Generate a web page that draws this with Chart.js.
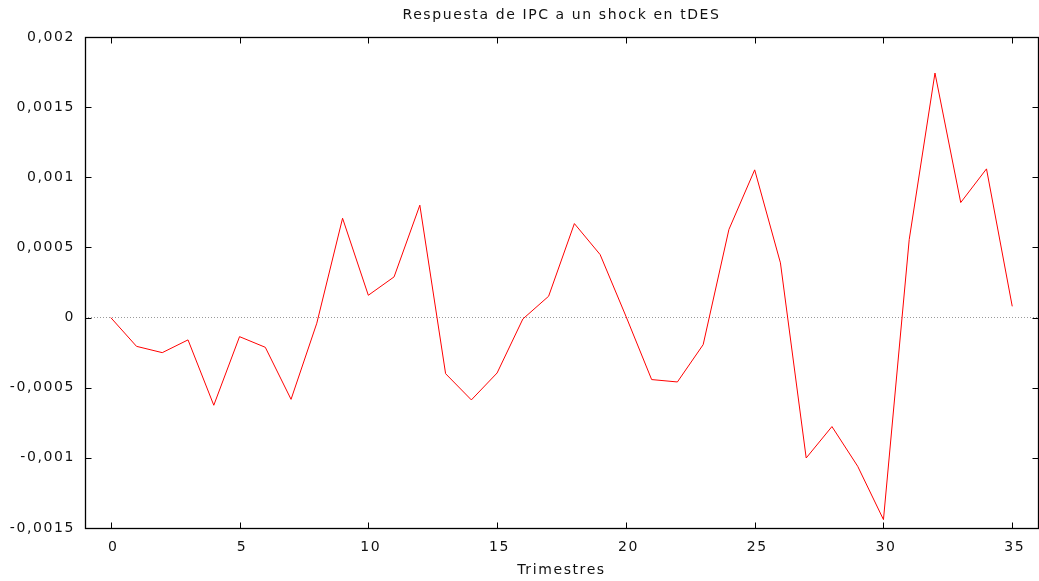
<!DOCTYPE html>
<html>
<head>
<meta charset="utf-8">
<script src="https://cdn.jsdelivr.net/npm/chart.js@4/dist/chart.umd.min.js"></script>
<style>
  html, body { margin: 0; padding: 0; background: #fff; }
  #wrap { width: 1039px; height: 581px; }
</style>
</head>
<body>
<div id="wrap"><canvas id="c" width="1039" height="581"></canvas></div>
<script>
const chartTitle = 'Respuesta de IPC a un shock en tDES';
const xAxisTitle = 'Trimestres';
const periods = [0,1,2,3,4,5,6,7,8,9,10,11,12,13,14,15,16,17,18,19,20,21,22,23,24,25,26,27,28,29,30,31,32,33,34,35];
const response = [
  0, -0.000205, -0.00025, -0.000159, -0.000625, -0.000136, -0.000212, -0.000583, -0.00004, 0.000708,
  0.000159, 0.00029, 0.000801, -0.0004, -0.000587, -0.000395, -0.00001, 0.000152, 0.00067, 0.000449,
  0.00001, -0.000442, -0.000459, -0.000193, 0.000628, 0.001053, 0.00039, -0.001001, -0.000777, -0.00106,
  -0.00144, 0.000556, 0.001743, 0.00082, 0.00106, 0.00008
];
const xTickValues = [0, 5, 10, 15, 20, 25, 30, 35];
const yTickValues = [-0.0015, -0.001, -0.0005, 0, 0.0005, 0.001, 0.0015, 0.002];

const FONT = 'DejaVu Sans';
const FS = 14;
const SPACING = '1.6px';

const spacing = {
  id: 'spacing',
  beforeLayout(chart) { chart.ctx.letterSpacing = SPACING; },
  beforeDraw(chart) { chart.ctx.letterSpacing = SPACING; }
};

const frameTicks = {
  id: 'frameTicks',
  afterDraw(chart) {
    const ctx = chart.ctx;
    const a = chart.chartArea;
    const xs = chart.scales.x, ys = chart.scales.y;
    const L = Math.round(a.left) + 0.5, R = Math.round(a.right) + 0.5;
    const T = Math.round(a.top) + 0.5, B = Math.round(a.bottom) + 0.5;
    ctx.save();
    ctx.strokeStyle = '#000';
    ctx.lineWidth = 1;
    ctx.setLineDash([]);
    ctx.beginPath();
    xs.ticks.forEach(t => {
      const px = Math.round(xs.getPixelForValue(t.value)) + 0.5;
      ctx.moveTo(px, B); ctx.lineTo(px, B - 6);
      ctx.moveTo(px, T); ctx.lineTo(px, T + 6);
    });
    ys.ticks.forEach(t => {
      const py = Math.round(ys.getPixelForValue(t.value)) + 0.5;
      ctx.moveTo(L, py); ctx.lineTo(L + 6, py);
      ctx.moveTo(R, py); ctx.lineTo(R - 6, py);
    });
    ctx.stroke();
    ctx.lineWidth = 1.3;
    ctx.strokeRect(L, T, R - L, B - T);
    ctx.restore();
  }
};

const fmt = v => {
  const n = Number(Number(v).toFixed(6));
  return String(n).replace('.', ',');
};

new Chart(document.getElementById('c'), {
  type: 'line',
  data: {
    datasets: [{
      data: periods.map((p, i) => ({ x: p, y: response[i] })),
      borderColor: '#ff0000',
      borderWidth: 1,
      pointRadius: 0,
      tension: 0,
      fill: false
    }]
  },
  options: {
    responsive: false,
    animation: false,
    layout: { padding: { left: 0, right: 1, top: 0, bottom: 0 } },
    plugins: {
      legend: { display: false },
      tooltip: { enabled: false },
      title: { display: false }
    },
    scales: {
      x: {
        type: 'linear',
        min: -1,
        max: 36,
        afterBuildTicks: s => { s.ticks = xTickValues.map(v => ({ value: v })); },
        afterFit: s => { s.height = 53; },
        grid: { display: false },
        border: { display: false },
        ticks: {
          color: '#111',
          font: { family: FONT, size: FS },
          padding: 3,
          labelOffset: 2.5,
          maxRotation: 0,
          callback: v => String(v)
        },
        title: {
          display: true,
          text: xAxisTitle,
          color: '#111',
          font: { family: FONT, size: FS },
          padding: { top: 0, bottom: 2 }
        }
      },
      xTitle: {
        type: 'linear',
        position: 'top',
        min: -1,
        max: 36,
        afterFit: s => { s.height = 37; },
        grid: { display: false },
        border: { display: false },
        ticks: { display: false },
        title: {
          display: true,
          text: chartTitle,
          color: '#111',
          font: { family: FONT, size: FS, weight: 'normal' },
          padding: { top: 7, bottom: 0 }
        }
      },
      y: {
        type: 'linear',
        min: -0.0015,
        max: 0.002,
        afterBuildTicks: s => { s.ticks = yTickValues.map(v => ({ value: v })); },
        afterFit: s => { s.width = 85; },
        grid: {
          drawTicks: false,
          color: c => (c.tick && c.tick.value === 0) ? '#9a9a9a' : 'rgba(0,0,0,0)',
          lineWidth: 1
        },
        border: { display: false, dash: [1, 2] },
        ticks: {
          color: '#111',
          font: { family: FONT, size: FS },
          padding: 10,
          callback: v => fmt(v)
        }
      }
    }
  },
  plugins: [spacing, frameTicks]
});
</script>
</body>
</html>
